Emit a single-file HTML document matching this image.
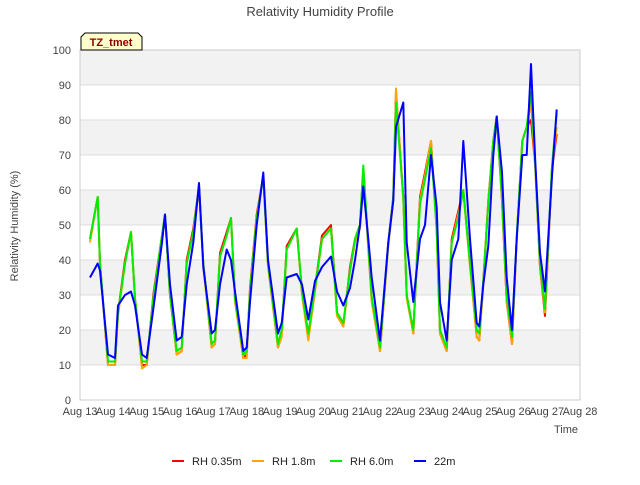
<!DOCTYPE html>
<html><head><meta charset="utf-8"><style>
body{margin:0;background:#fff;}
svg{font-family:"Liberation Sans",sans-serif;}
</style></head><body>
<svg id="chart" width="640" height="480" viewBox="0 0 640 480" xmlns="http://www.w3.org/2000/svg">
<rect width="640" height="480" fill="#fff"/>
<text x="320" y="16" text-anchor="middle" font-size="13" fill="#444">Relativity Humidity Profile</text>
<g id="bands"></g>
<g id="grid"></g>
<rect x="80" y="50" width="500" height="350" fill="none" stroke="#ccc"/>
<g id="yticks"></g>
<g id="xticks"></g>
<g id="series"></g>
<text transform="translate(18,226) rotate(-90)" text-anchor="middle" font-size="11" fill="#444">Relativity Humidity (%)</text>
<text x="578" y="433" text-anchor="end" font-size="11" fill="#444">Time</text>
<g>
<path d="M81,50 L81,37 L85,33 L138,33 L142,37 L142,50 Z" fill="#ffffcc" stroke="#000"/>
<text x="111" y="46" text-anchor="middle" font-size="11" font-weight="bold" fill="#8b0000">TZ_tmet</text>
</g>
<g id="legend"></g>
</svg>
<script>
const times=[13.3,13.53,13.6,13.84,14.05,14.14,14.35,14.53,14.65,14.86,15.0,15.2,15.46,15.55,15.7,15.9,16.05,16.2,16.4,16.57,16.7,16.95,17.05,17.2,17.4,17.53,17.65,17.9,18.0,18.1,18.3,18.5,18.64,18.94,19.05,19.2,19.5,19.66,19.85,20.05,20.26,20.53,20.71,20.9,21.1,21.25,21.4,21.5,21.65,21.75,22.0,22.25,22.4,22.48,22.7,22.8,23.0,23.2,23.35,23.53,23.7,23.8,24.0,24.15,24.35,24.5,24.7,24.9,24.98,25.1,25.25,25.4,25.5,25.66,25.8,25.96,26.1,26.27,26.4,26.53,26.66,26.8,26.95,27.16,27.3];
const rh035=[46,58,39,10,10,25,40,48,29,10,10,30,47,53,30,13,14,40,49,61,39,15,16,42,48,52,29,12,13,32,53,64,39,15,19,44,49,31,18,32,47,50,25,21,38,46,50,66,44,29,14,45,58,88,58,30,19,58,65,74,49,19,14,46,54,60,39,18,17,34,57,74,81,57,28,16,46,74,78,80,67,38,24,66,76];
const rh18=[45,58,39,10,10,24,39,48,29,9,10,29,46,53,30,13,14,39,48,61,38,15,16,41,47,52,28,12,12,31,52,64,38,15,18,43,49,30,17,31,46,49,24,21,37,45,49,66,43,28,14,44,57,89,57,29,19,57,64,74,48,19,14,45,53,60,38,18,17,33,57,74,81,57,28,16,46,74,78,85,66,38,25,66,78];
const rh60=[46,58,39,11,11,25,39,48,29,11,11,29,47,53,30,14,15,39,48,61,39,16,17,41,47,52,29,13,14,31,52,64,39,16,20,43,49,31,19,32,46,49,25,22,37,46,50,67,44,29.5,15,45,58,85,58,30,20,56,63,72,48.5,20,15,45,52,60,39,20,19,34,56,74,81,58,29.5,18,46.7,74,78,88,67,39,26,67,82];
const rh22=[35,39,37,13,12,27,30,31,27,13,12,26,45,53,33,17,18,33,45,62,38,19,20,33,43,40,31,14,15,28,50,65,40,19,22,35,36,33,23,34,38,41,31,27,32,40,50,61,46,35,17,45,57,78,85,45,28,46,50,70,55,28,17,40,46,74,46,22,21,33,44,70,81,65,35,20,46,70,70,96,68,42,31,64,83];
const yTicks=[0,10,20,30,40,50,60,70,80,90,100];
const xTickLabels=["Aug 13","Aug 14","Aug 15","Aug 16","Aug 17","Aug 18","Aug 19","Aug 20","Aug 21","Aug 22","Aug 23","Aug 24","Aug 25","Aug 26","Aug 27","Aug 28"];
const seriesNames=["RH 0.35m","RH 1.8m","RH 6.0m","22m"];
const seriesColors=["#ff0000","#ffa500","#00ee00","#0000ff"];
const seriesData=[rh035,rh18,rh60,rh22];

const NS="http://www.w3.org/2000/svg";
const X0=80,X1=580,Y0=400,Y1=50,D0=13,D1=28;
function xs(d){return X0+(d-D0)/(D1-D0)*(X1-X0);}
function ys(v){return Y0-v/100*(Y0-Y1);}
function mk(tag,attrs,parent){const e=document.createElementNS(NS,tag);for(const k in attrs)e.setAttribute(k,attrs[k]);parent.appendChild(e);return e;}

const bands=document.getElementById('bands');
for(let v=10;v<100;v+=20){
  const r=mk('rect',{x:X0,y:ys(v+10),width:X1-X0,height:ys(v)-ys(v+10),fill:'#f2f2f2'},bands);
  
  
}
const grid=document.getElementById('grid');
const yt=document.getElementById('yticks');
yTicks.forEach(v=>{
  const l=mk('line',{x1:X0,x2:X1,y1:ys(v),y2:ys(v),stroke:'#ddd'},grid);
  
  
  const t=mk('text',{x:X0-9,y:ys(v)+4,'text-anchor':'end','font-size':'11',fill:'#444'},yt);
  t.textContent=v;
  
  
});
const xt=document.getElementById('xticks');
xTickLabels.forEach((s,i)=>{
  const t=mk('text',{x:xs(D0+i),y:415,'text-anchor':'middle','font-size':'11',fill:'#444'},xt);
  t.textContent=s;
  
  
});
const sg=document.getElementById('series');
seriesData.forEach((arr,si)=>{
  const d=arr.map((v,i)=>(i?'L':'M')+xs(times[i]).toFixed(1)+','+ys(v).toFixed(1)).join(' ');
  const p=mk('path',{d:d,fill:'none',stroke:seriesColors[si],'stroke-width':'2','stroke-linejoin':'round'},sg);
  
  
});
const lg=document.getElementById('legend');
const lx=[172,252,330,414];
seriesNames.forEach((n,i)=>{
  const g=mk('g',{},lg);
  
  
  mk('line',{x1:lx[i],x2:lx[i]+12,y1:461,y2:461,stroke:seriesColors[i],'stroke-width':'2'},g);
  const t=mk('text',{x:lx[i]+20,y:465,'font-size':'11',fill:'#222'},g);
  t.textContent=n;
});
</script>
</body></html>
